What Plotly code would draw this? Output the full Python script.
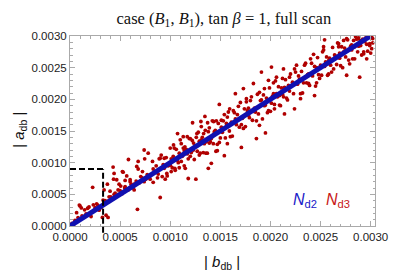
import plotly.graph_objects as go

# ---- data (units of 1e-4) ----
SCALE = 1e-4

red_seg1 = [(0.2,0.4),(0.4,0.3),(0.5,0.9),(0.66,2.1),(0.8,1.3),(0.93,3.3),(1.0,3.16),(1.13,2.85),
            (1.2,1.6),(1.46,2.56),(1.6,1.9),(1.76,2.8),(1.9,3.0),(2.1,1.5),(2.26,6.1),(2.33,3.35),
            (2.5,2.9),(2.66,3.5),(2.76,3.3),(2.9,2.5),(3.1,2.9),(3.23,1.35),(3.3,4.1),(3.4,5.7)]

red_seg2 = [(3.5,4.0),(3.6,1.7),(3.7,3.9),(3.73,6.6),(3.8,1.35),(3.9,4.6),(4.0,5.5),(4.07,4.6),
            (4.2,4.3),(4.3,9.3),(4.35,7.4),(4.4,5.0),(4.4,8.3),(4.5,5.2),(4.66,7.3),(4.8,5.7),
            (4.8,5.0),(4.9,6.6),(5.0,5.6),(5.06,6.3),(5.2,5.1),(5.23,8.6),(5.3,8.5),(5.46,6.0),
            (5.5,6.2),(5.5,7.2),(5.66,7.9),(5.8,5.7),(5.83,10.5),(6.0,7.3),(6.0,7.0),(6.1,6.6),
            (6.23,6.2),(6.3,6.0),(6.4,5.7),(6.4,6.6),(6.6,7.1),(6.66,9.4),(6.73,2.63),(6.8,10.2),
            (6.8,9.0),(6.9,6.8),(7.06,7.8),(7.2,7.6),(7.23,8.6),(7.4,12.0),(7.4,7.0),(7.45,10.6),
            (7.56,7.4),(7.7,8.1),(7.8,11.5),(7.9,7.7),(8.0,7.4),(8.23,10.2),(8.3,9.0),(8.3,6.9),
            (8.46,8.6)]

red_seg3 = [(8.73,7.6),(9.0,4.5),(9.13,9.1),(9.4,10.7),(9.66,8.3),(9.9,9.7),(10.1,8.6),(10.33,12.8),
            (10.46,9.1),(10.73,14.6),(10.9,11.5),(11.1,10.2),(11.3,14.1),(11.46,12.5),(11.7,14.1),
            (11.8,7.5),(12.0,11.0),(12.23,16.3),(12.33,13.1),(12.56,7.4),(12.66,14.6),(12.9,11.2),
            (13.06,16.5),(13.1,15.7),(13.33,14.6),(13.46,17.3),(13.56,11.5),(13.73,16.3),(13.9,13.1),
            (14.1,9.9),(14.33,16.5),(14.4,14.6),(13.8,9.1),(14.56,11.8),
            (8.6,9.5),(8.8,8.2),(9.0,10.7),(9.2,7.8),(9.3,9.7),(9.5,7.4),(9.6,10.8),(9.8,9.5),
            (10.0,12.3),(10.2,9.2),(10.3,11.0),(10.5,8.8),(10.6,12.1),(10.8,10.0),(11.0,13.6),
            (11.2,11.0),(11.3,12.3),(11.5,9.1),(11.6,12.1),(11.8,10.6),(11.9,13.8),(12.1,11.6),
            (12.2,13.5),(12.4,10.5),(12.5,12.7),(12.7,11.8),(12.8,14.8),(13.0,11.5),(13.2,14.0),
            (13.4,13.0),(13.5,15.1),(13.7,11.5),(13.8,14.9),(14.0,13.3),(14.2,16.6),(14.3,13.0),
            (14.5,15.1),(14.7,12.9),(14.8,16.2),(15.0,13.9),
            (9.1,11.2),(10.4,12.3),(11.4,9.5),(12.6,14.0),(13.3,11.6),(14.6,16.6),(10.9,9.2),
            (12.0,13.8),(9.7,7.9),(11.1,13.0),(13.9,15.5),(14.9,13.2),(8.9,10.6),
            (9.4,9.1),(10.1,10.6),(10.7,10.4),(11.4,11.9),(12.3,12.0),(12.9,13.4),(13.6,13.3),
            (14.4,14.9),(10.0,9.6),(11.7,11.4),(13.1,13.6),(14.1,13.8)]

red_seg4 = [(14.7,11.9),(15.4,11.1),(15.7,13.0),(14.9,19.2),(15.1,16.7),(15.93,18.5),(16.5,20.9),
            (17.1,12.4),(17.3,21.7),(17.6,20.1),(17.8,17.5),(18.3,22.5),(18.6,13.8),(18.9,15.9),
            (19.1,24.3),(19.5,14.7),(19.8,23.0),(20.1,25.1),(20.4,18.5),(20.6,23.5),(20.9,20.6),
            (21.3,24.8),(21.4,17.7),(21.9,23.5),(22.4,18.5),
            (15.2,14.8),(15.3,16.6),(15.5,13.9),(15.6,16.2),(15.8,18.0),(15.9,15.0),(16.1,16.4),
            (16.2,14.2),(16.4,17.9),(16.6,16.0),(16.7,17.6),(16.9,15.6),(17.0,19.5),(17.2,17.0),
            (17.4,18.5),(17.5,15.7),(17.7,18.2),(17.9,17.1),(18.0,19.8),(18.2,16.7),(18.4,18.6),
            (18.5,18.0),(18.7,20.8),(18.8,17.7),(19.0,19.8),(19.2,16.9),(19.3,20.7),(19.5,19.1),
            (19.6,20.2),(19.8,18.2),(19.9,21.8),(20.1,19.4),(20.2,20.5),(20.4,19.2),(20.5,22.9),
            (20.7,20.4),(20.8,22.0),(21.0,19.0),(21.1,21.8),(21.3,20.4),(21.5,23.1),(21.6,20.2),
            (21.8,22.2),(21.9,21.3),(22.0,24.0),
            (15.4,17.6),(16.0,14.1),(16.8,18.9),(17.3,15.4),(18.1,20.4),(18.6,16.6),(19.4,21.7),
            (19.7,17.9),(20.3,22.6),(20.9,19.1),(21.2,23.3),(21.7,19.9),(16.3,18.2),(17.6,19.6),
            (18.9,21.1),(20.0,18.1),(21.4,21.9),(15.7,17.2),(17.1,16.0),(19.1,19.9),(20.6,20.9),
            (16.5,16.9),(17.8,18.6),(18.3,18.1),(19.4,19.0),(20.3,20.9),(21.2,20.8),(15.1,15.6)]

red_seg5 = [(22.6,25.4),(23.0,20.1),(23.4,25.4),(23.8,22.5),(24.3,27.1),(24.4,20.6),(24.9,23.3),
            (25.3,28.3),(25.4,29.4),(25.8,24.0),(26.4,26.4),(26.8,28.8),(27.3,29.3),(27.6,23.8),
            (27.9,25.6),(28.4,28.3),(28.8,29.7),(28.9,23.5),(29.3,27.2),(29.6,26.4),(29.9,28.8),
            (30.1,28.0),
            (22.2,22.7),(22.3,20.9),(22.5,24.3),(22.7,22.4),(22.8,23.7),(23.0,20.9),(23.1,24.4),
            (23.3,22.6),(23.5,25.7),(23.6,22.6),(23.8,24.0),(23.9,22.2),(24.1,25.7),(24.2,23.7),
            (24.4,25.2),(24.5,22.1),(24.7,26.6),(24.8,23.9),(25.0,25.4),(25.1,23.8),(25.3,27.8),
            (25.4,25.2),(25.6,26.7),(25.7,23.8),(25.9,26.5),(26.0,25.4),(26.2,28.2),(26.3,24.8),
            (26.5,26.8),(26.6,25.5),(26.8,28.3),(26.9,26.5),(27.1,28.3),(27.2,25.0),(27.4,28.1),
            (27.5,26.7),(27.7,29.4),(27.8,26.2),(28.0,28.4),(28.1,27.8),(28.3,29.3),(28.4,26.4),
            (28.6,29.5),(28.7,27.5),(28.9,29.5),(29.0,28.5),(29.2,29.5),(29.3,27.5),(29.5,29.7),
            (29.6,28.7),(29.8,29.9),(29.9,28.5),(30.1,29.8),(30.2,29.6),
            (22.4,24.8),(23.2,21.0),(24.0,26.4),(24.6,22.6),(25.2,27.5),(26.1,24.3),(26.7,28.9),
            (27.0,25.3),(27.6,29.6),(28.2,26.4),(28.5,29.9),(29.1,27.0),(29.7,27.6),(30.0,27.3),
            (25.5,25.9),(26.4,27.0),(27.3,27.5),(28.8,28.4),(23.7,23.9),(22.9,23.2),
            (24.6,25.0),(25.8,26.1),(26.9,27.3),(28.1,28.6),(29.4,29.1),(30.2,28.9)]

blue_b = [0.0, 0.0030]
blue_a = [0.0, 0.0030]

box_b = 0.00033   # dashed box corner
box_a = 0.0009

tick_vals = [0.0, 0.0005, 0.0010, 0.0015, 0.0020, 0.0025, 0.0030]
tick_text = ["0.0000", "0.0005", "0.0010", "0.0015", "0.0020", "0.0025", "0.0030"]

x_max = 0.003043
y_max = 0.0030

red_all = red_seg1 + red_seg2 + red_seg3 + red_seg4 + red_seg5
red_b = [p[0] * SCALE for p in red_all]
red_a = [p[1] * SCALE for p in red_all]

RED = "#b00000"
BLUE = "#1010b0"
FRAME = "#aaaaaa"
SANS = "Liberation Sans, Arial, sans-serif"

fig = go.Figure()
fig.add_trace(go.Scatter(x=red_b, y=red_a, mode="markers",
                         marker=dict(size=3.8, color=RED, line=dict(width=0)),
                         hoverinfo="skip", showlegend=False))
fig.add_trace(go.Scatter(x=blue_b, y=blue_a, mode="lines",
                         line=dict(color=BLUE, width=5),
                         hoverinfo="skip", showlegend=False))

# dashed box
fig.add_shape(type="line", xref="x", yref="y", x0=0, x1=box_b, y0=box_a, y1=box_a,
              line=dict(color="black", width=2, dash="6px,3px"))
fig.add_shape(type="line", xref="x", yref="paper", x0=box_b, x1=box_b,
              y0=-0.035, y1=box_a / y_max,
              line=dict(color="black", width=2, dash="6px,3px"))

axis_common = dict(
    showgrid=False, zeroline=False, showline=True, linecolor=FRAME, linewidth=1,
    mirror="allticks", ticks="inside", ticklen=5, tickcolor=FRAME, tickwidth=1,
    tickvals=tick_vals, ticktext=tick_text,
    tickfont=dict(family=SANS, size=11.5, color="#222222"),
    minor=dict(ticks="inside", ticklen=2.5, tickcolor=FRAME, dtick=0.0001, tick0=0, showgrid=False),
)

fig.update_xaxes(range=[0, x_max], **axis_common)
fig.update_yaxes(range=[0, y_max], **axis_common)

fig.update_layout(
    width=391, height=267,
    margin=dict(l=62, r=24, t=28, b=49),
    paper_bgcolor="white", plot_bgcolor="white",
    title=dict(text="case (<i>B</i><sub>1</sub>, <i>B</i><sub>1</sub>), tan <i>β</i> = 1, full scan",
               x=0.552, xanchor="center", y=0.962, yanchor="middle",
               font=dict(family="Liberation Serif, Times New Roman, serif", size=16.5, color="#111111")),
    annotations=[
        dict(text="| <i>b</i><sub>db</sub> |", xref="paper", yref="paper", x=0.498, y=-0.19,
             xanchor="center", yanchor="middle", showarrow=False,
             font=dict(family=SANS, size=15, color="#111111")),
        dict(text="| <i>a</i><sub>db</sub> |", xref="paper", yref="paper", x=-0.168, y=0.505,
             xanchor="center", yanchor="middle", textangle=-90, showarrow=False,
             font=dict(family=SANS, size=15, color="#111111")),
        dict(text="<i>N</i><sub>d2</sub>", xref="paper", yref="paper", x=0.77, y=0.132,
             xanchor="center", yanchor="middle", showarrow=False,
             font=dict(family=SANS, size=16, color="#2020c8")),
        dict(text="<i>N</i><sub>d3</sub>", xref="paper", yref="paper", x=0.879, y=0.132,
             xanchor="center", yanchor="middle", showarrow=False,
             font=dict(family=SANS, size=16, color="#c81818")),
    ],
)

fig.write_html("out.html")
